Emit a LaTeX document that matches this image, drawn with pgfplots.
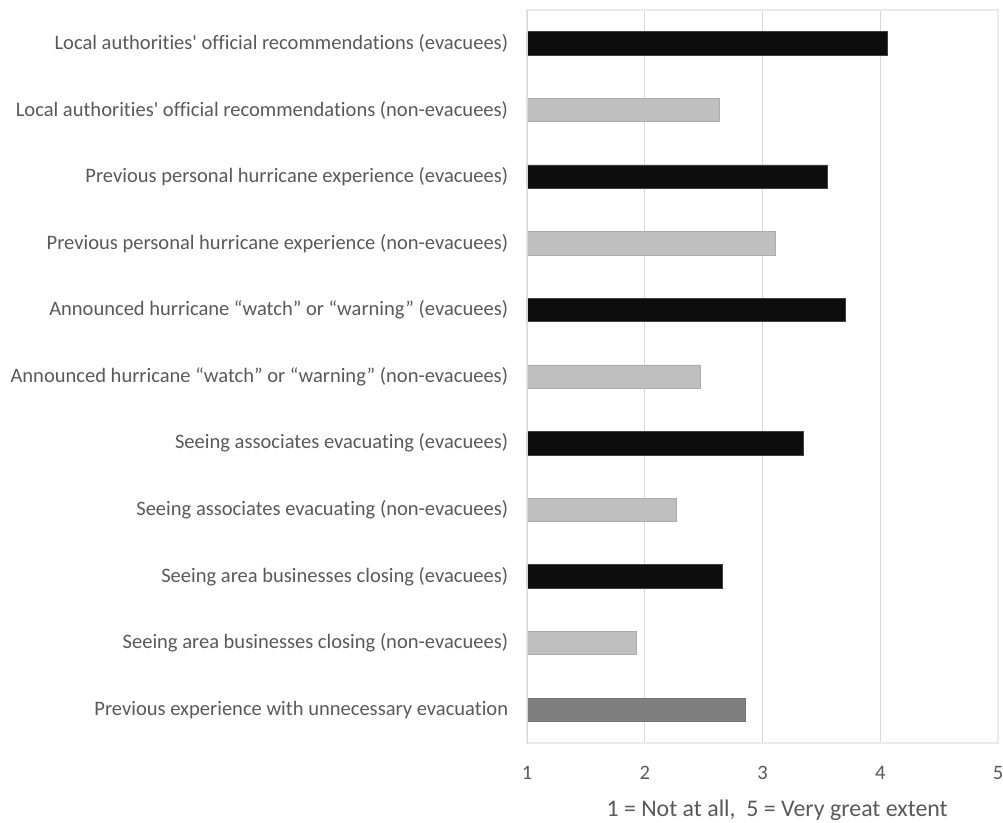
\documentclass[border=0pt]{standalone}
\usepackage{fontspec}
\setmainfont{Carlito}[Ligatures={TeX,NoCommon}]
\usepackage{pgfplots}
\pgfplotsset{compat=1.18}

\definecolor{txt}{HTML}{595959}
\definecolor{gridc}{HTML}{D9D9D9}
\definecolor{framec}{HTML}{EBEBEB}
\definecolor{evac}{HTML}{0D0D0D}
\definecolor{nonevac}{HTML}{BFBFBF}
\definecolor{other}{HTML}{7F7F7F}

% mean rating per item; y = position from the bottom (0) to the top (10)
\begin{document}
\begin{tikzpicture}[x=1pt,y=1pt]
\path[use as bounding box] (0,0) rectangle (752.25,616.5);
\begin{axis}[
  at={(395.25pt,59.25pt)}, anchor=south west,
  scale only axis, width=353.25pt, height=549.75pt,
  xmin=1, xmax=5, ymin=-0.5, ymax=10.5,
  xtick={1,2,3,4,5},
  ytick={0,...,10},
  yticklabels={
    Previous experience with unnecessary evacuation,
    Seeing area businesses closing (non-evacuees),
    Seeing area businesses closing (evacuees),
    Seeing associates evacuating (non-evacuees),
    Seeing associates evacuating (evacuees),
    Announced hurricane “watch” or “warning” (non-evacuees),
    Announced hurricane “watch” or “warning” (evacuees),
    Previous personal hurricane experience (non-evacuees),
    Previous personal hurricane experience (evacuees),
    Local authorities\textquotesingle\ official recommendations (non-evacuees),
    Local authorities\textquotesingle\ official recommendations (evacuees)},
  major tick length=0pt,
  xmajorgrids, ymajorgrids=false,
  grid style={draw=gridc, line width=1pt},
  axis line style={draw=framec, line width=0.8pt},
  tick label style={font=\fontsize{15.4}{17}\selectfont, text=txt},
  /pgf/number format/assume math mode=true,
  yticklabel style={inner sep=0pt, xshift=-14pt},
  xticklabel style={inner sep=0pt, anchor=north, yshift=-17pt},
  xlabel={1 = Not at all,\ \ 5 = Very great extent},
  xlabel style={at={(axis description cs:0.531,0)}, anchor=base, yshift=-55.3pt,
    font=\fontsize{17.9}{20}\selectfont, text=txt},
  xbar, bar width=17.5pt, bar shift=0pt,
]
\addplot[fill=evac, draw=black!75, line width=0.4pt] coordinates {
  (4.06,10) (3.55,8) (3.70,6) (3.35,4) (2.66,2)
};
\addplot[fill=nonevac, draw=nonevac!90!black, line width=0.4pt] coordinates {
  (2.63,9) (3.11,7) (2.47,5) (2.27,3) (1.93,1)
};
\addplot[fill=other, draw=other!90!black, line width=0.4pt] coordinates {
  (2.85,0)
};
\draw[gridc, line width=1pt] (axis cs:1,-0.5) -- (axis cs:1,10.5);
\end{axis}
\end{tikzpicture}
\end{document}
